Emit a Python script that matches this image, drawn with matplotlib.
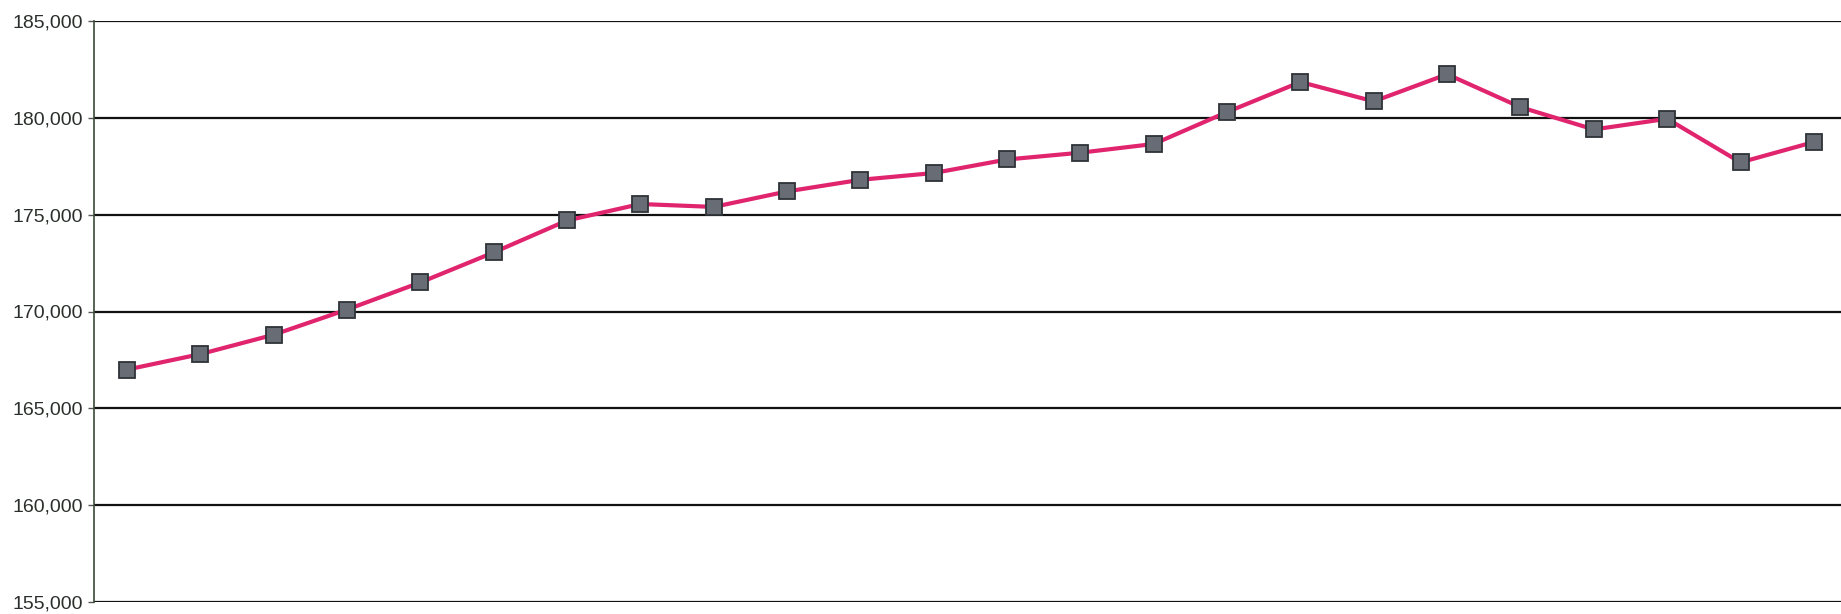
import matplotlib
matplotlib.use("Agg")
import matplotlib.pyplot as plt
from matplotlib.ticker import FuncFormatter
import numpy as np

plt.rcParams['font.family'] = ['Liberation Sans', 'DejaVu Sans']

# values, relative to the local gridlines
periods = list(range(24))
values = [167000, 167800, 168800, 170100, 171500, 173050,
          174700, 175550, 175400, 176200, 176800, 177150,
          177850, 178200, 178650, 180300, 181850, 180850,
          182250, 180550, 179400, 179950, 177700, 178750]
yticks = [155000, 160000, 165000, 170000, 175000, 180000, 185000]

fig = plt.figure(figsize=(18.41, 6.14), dpi=100)
ax = fig.add_axes([94 / 1841, 12 / 614, 1 - 94 / 1841, 581 / 614])

ax.plot(periods, values, color="#e0246e", lw=3, zorder=2)
ax.plot(periods, values, ls="none", marker="s", ms=11.5,
        mfc="#676c75", mec="#2e3338", mew=1.3, zorder=3)

ax.set_ylim(155000, 185000)
ax.set_xlim(-0.45, 23.37)
ax.set_yticks(yticks)
ax.yaxis.set_major_formatter(FuncFormatter(lambda v, p: f"{int(v):,}"))
ax.tick_params(axis="y", labelsize=14, labelcolor="#2b2f2b",
               length=4, width=1, color="#555555", pad=4)
ax.set_xticks([])

for t in yticks:
    ax.axhline(t, color="#111111", lw=1.6, zorder=1)

for s in ["top", "right", "bottom"]:
    ax.spines[s].set_visible(False)
ax.spines["left"].set_color("#3a4a3a")
ax.spines["left"].set_linewidth(1.2)

fig.savefig("out.png", dpi=100, facecolor="white")
